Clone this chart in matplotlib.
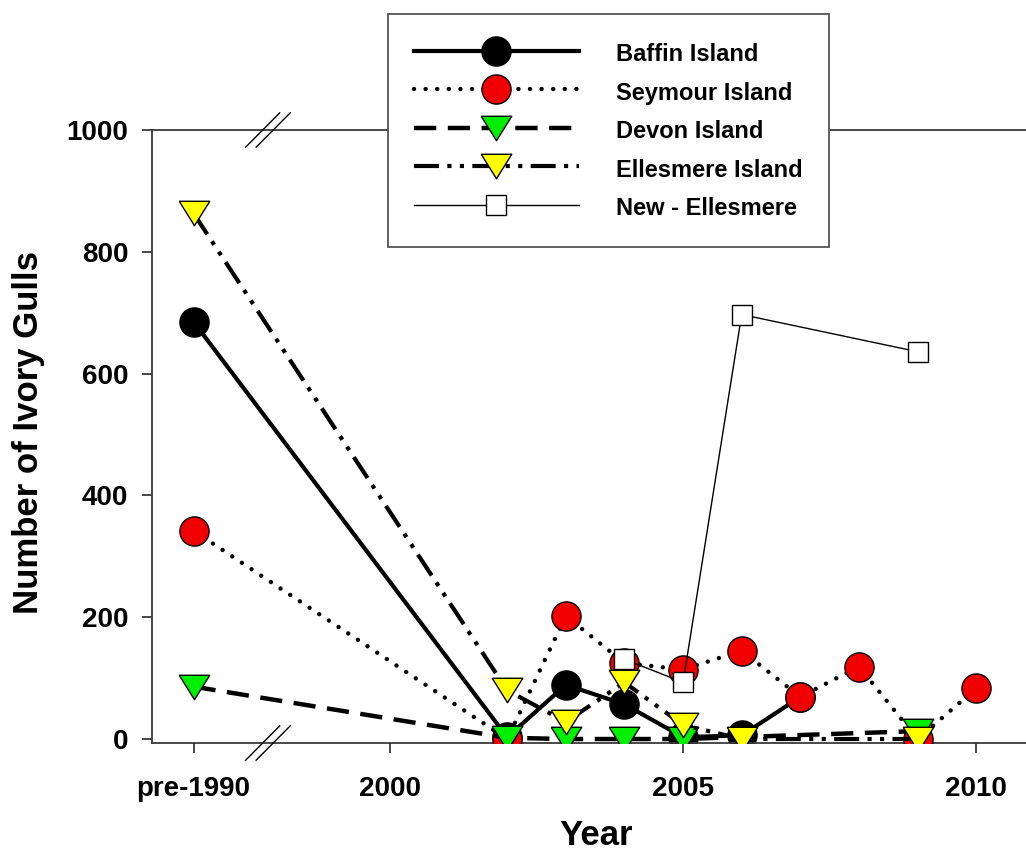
import matplotlib
matplotlib.use("Agg")
import matplotlib.pyplot as plt

plt.rcParams['font.family'] = ['Liberation Sans', 'DejaVu Sans']
plt.rcParams['font.weight'] = 'bold'

# data ("pre-1990" sits on a broken axis)
baffin_years = ['pre-1990', 2002, 2003, 2004, 2005, 2006, 2007]
baffin_counts = [685, 3, 89, 57, 3, 6, 69]

seymour_years = ['pre-1990', 2002, 2003, 2004, 2005, 2006, 2007, 2008, 2009, 2010]
seymour_counts = [342, 0, 202, 125, 114, 145, 69, 119, 0, 83]

devon_years = ['pre-1990', 2002, 2003, 2004, 2005, 2009]
devon_counts = [86, 2, 0, 0, 0, 13]

ellesmere_years = ['pre-1990', 2002, 2003, 2004, 2005, 2006, 2009]
ellesmere_counts = [863, 80, 28, 93, 23, 0, 0]

new_years = [2004, 2005, 2006, 2009]
new_counts = [131, 93, 697, 636]

tick_labels = ['pre-1990', '2000', '2005', '2010']
tick_years = ['pre-1990', 2000, 2005, 2010]

PRE_POS = 1996.65   # where "pre-1990" is drawn on the broken axis


def xpos(years):
    return [PRE_POS if y == 'pre-1990' else y for y in years]


# triangle pointing down, a bit flatter than matplotlib's 'v'
tri_down = [(-1, 0.8), (1, 0.8), (0, -0.8), (-1, 0.8)]

fig = plt.figure(figsize=(10.26, 8.52), dpi=100)
ax = fig.add_axes([0.1481, 0.1279, 0.8519, 0.7195])

l1, = ax.plot(xpos(baffin_years), baffin_counts, color='black', lw=3,
              marker='o', ms=21, mfc='black', mec='black', mew=1,
              label='Baffin Island', zorder=2)
l2, = ax.plot(xpos(seymour_years), seymour_counts, color='black', lw=3.2,
              dashes=(0.01, 2.6), dash_capstyle='round',
              marker='o', ms=21, mfc='#f00000', mec='black', mew=1,
              label='Seymour Island', zorder=3)
l3, = ax.plot(xpos(devon_years), devon_counts, color='black', lw=3.2,
              dashes=(5, 2.6), marker=tri_down, ms=22, mfc='#00ee00',
              mec='black', mew=1, label='Devon Island', zorder=4)
l4, = ax.plot(xpos(ellesmere_years), ellesmere_counts, color='black', lw=3,
              dashes=(6, 2, 1, 2, 1, 2), marker=tri_down, ms=22,
              mfc='#ffff00', mec='black', mew=1,
              label='Ellesmere Island', zorder=5)
l5, = ax.plot(xpos(new_years), new_counts, color='black', lw=1,
              marker='s', ms=14, mfc='white', mec='black', mew=1,
              label='New - Ellesmere', zorder=6)

ax.set_xlim(1995.94, 2010.85)
ax.set_ylim(-6.6, 1000)
ax.set_xticks(xpos(tick_years))
ax.set_xticklabels(tick_labels)
ax.set_yticks(range(0, 1001, 200))

for s in ['left', 'top', 'bottom']:
    ax.spines[s].set_color('#3a3a3a')
    ax.spines[s].set_linewidth(1.3)
ax.spines['right'].set_visible(False)
ax.tick_params(axis='both', direction='out', length=7, width=1.3,
               color='#3a3a3a', labelsize=20)
ax.tick_params(axis='x', top=False, pad=17)
ax.tick_params(axis='y', right=False, pad=10)

ax.set_ylabel('Number of Ivory Gulls', fontsize=25, fontweight='bold')
ax.set_xlabel('Year', fontsize=25, fontweight='bold')
ax.yaxis.set_label_coords(-0.122, 0.507)
ax.xaxis.set_label_coords(0.508, -0.124)

# axis break marks on the top and bottom spines
bx, off = 0.1327, 0.006
dx, dy = 0.0195, 0.028
for yb in (0.0, 1.0):
    for xc in (bx - off, bx + off):
        ax.plot([xc - dx, xc + dx], [yb - dy, yb + dy], transform=ax.transAxes,
                color='black', lw=1, clip_on=False, zorder=10)

leg = fig.legend(handles=[l1, l2, l3, l4, l5], loc='upper left',
                 bbox_to_anchor=(388 / 1026, 1 - 14 / 852), borderaxespad=0,
                 fontsize=17, handlelength=6.95, handleheight=1.3,
                 handletextpad=1.6, borderpad=1.12, labelspacing=0.54,
                 numpoints=1, fancybox=False, framealpha=1)
leg.get_frame().set_edgecolor('#555555')
leg.get_frame().set_linewidth(1.3)
for t in leg.get_texts():
    t.set_fontweight('bold')

fig.savefig('out.png', dpi=100)
